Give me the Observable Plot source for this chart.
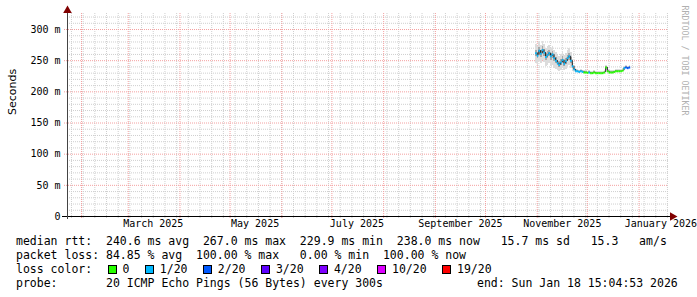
<!DOCTYPE html>
<html><head><meta charset="utf-8">
<script src="https://cdn.jsdelivr.net/npm/d3@7"></script>
<script src="https://cdn.jsdelivr.net/npm/@observablehq/plot@0.6"></script>
<style>
body{margin:0;background:#fff;}
#wrap{position:relative;width:697px;height:297px;overflow:hidden;background:#fff;}
#wrap svg{display:block;}
#legend{position:absolute;left:16px;top:234px;font-family:"DejaVu Sans Mono",monospace;font-size:11.5px;line-height:14px;white-space:pre;color:#000;}
#legend .box{display:inline-block;box-sizing:border-box;width:9px;height:9px;border:1px solid #000;margin:0 6px 0 1.5px;vertical-align:-1px;}
#legend .end{position:absolute;left:461px;top:42px;}
</style>
</head><body>
<div id="wrap"><div id="legend"></div></div>
<script>
// ---- data ----
const endTime = "2026-01-18T15:04:53Z";
const spanDays = 360;
const firstDay = "2025-10-31";           // first sample with replies (daily samples)
const medianMs = [262,258,266,261,267,263,256,259,262,257,260,254,250,246,243,247,251,245,249,254,257,250,241,
  236,233,233,232,233,232,
  231,231,230.5,231,230,230,231,230,230,230,230,230,231,
  239,
  233,231,231,231,232,233,233,233,233,234,
  238,239,238,239];
const lossCount = [1,1,1,1,1,1,1,1,1,1,1,1,1,1,1,1,1,1,1,1,1,1,1,
  1,1,1,1,1,1,
  0,0,0,1,0,0,0,0,0,0,0,0,0,
  0,
  0,0,0,0,0,0,0,0,0,0,
  1,2,2,2];
const smokeHiMs = [276,273,279,275,280,276,270,273,275,270,273,267,263,259,256,260,264,258,262,267,269,263,252,
  240,236,236,235,236,235,
  234,234,233,234,233,233,234,233,233,233,233,233,234,
  243,
  236,234,234,234,235,236,236,236,236,237,
  241,242,241,242];
const smokeLoMs = [246,243,249,246,250,247,241,243,246,241,243,238,236,234,233,235,238,234,236,240,242,237,233,
  232,231,231,230,231,230,
  229,229,229,229,228,228,229,228,228,228,228,228,229,
  235,
  231,229,229,229,230,231,231,231,231,232,
  236,237,236,237];
const coreHiMs = [267,263,271,266,272,268,261,264,267,262,265,259,255,251,248,252,256,250,254,259,262,255,245,
  237,234,234,233,234,233,
  232,232,231.5,232,231,231,232,231,231,231,231,231,232,
  240.5,
  234,232,232,232,233,234,234,234,234,235,
  239.5,240,239,240];
const coreLoMs = [256,253,260,255,261,257,251,254,256,251,254,249,245,242,239,242,246,241,244,249,251,245,238,
  235,232,232,231,232,231,
  230,230,229.5,230,229,229,230,229,229,229,229,229,230,
  237,
  232,230,230,230,231,232,232,232,232,233,
  237,238,237,238];
const yTickMs = [0,50,100,150,200,250,300];
const monthLabelDates = ["2025-03-01","2025-05-01","2025-07-01","2025-09-01","2025-11-01","2026-01-01"];
const lossLevels = [0,1,2,3,4,10,19];
const lossNames = ["0","1/20","2/20","3/20","4/20","10/20","19/20"];
const lossColors = ["#26ff00","#00b8ff","#0059ff","#5e00ff","#7e00ff","#dd00ff","#ff0000"];
const legendLines = [
  "median rtt:  240.6 ms avg  267.0 ms max  229.9 ms min  238.0 ms now   15.7 ms sd   15.3   am/s",
  "packet loss: 84.85 % avg  100.00 % max   0.00 % min  100.00 % now"
];
const probeText = "probe:       20 ICMP Echo Pings (56 Bytes) every 300s";
const endText = "end: Sun Jan 18 15:04:53 2026";
const yTitle = "Seconds";
const watermark = "RRDTOOL / TOBI OETIKER";
const yMaxSec = 0.3257;

// ---- build ----
const END = new Date(endTime);
const START = new Date(END.getTime() - spanDays * 864e5);
const d0 = new Date(firstDay + "T00:00:00Z");
const lossColor = c => { let k = 0; lossLevels.forEach((l, i) => { if (c >= l) k = i; }); return lossColors[k]; };
const rows = medianMs.map((m, i) => ({
  t0: d3.utcDay.offset(d0, i), t1: d3.utcDay.offset(d0, i + 1),
  med: m / 1000, loss: lossCount[i],
  lo: smokeLoMs[i] / 1000, hi: smokeHiMs[i] / 1000,
  clo: coreLoMs[i] / 1000, chi: coreHiMs[i] / 1000
}));
const conns = rows.slice(1).map((r, i) => ({t: r.t0, a: rows[i].med, b: r.med}));
const minorY = d3.range(10, 330, 10).filter(v => v % 50 !== 0).map(v => v / 1000);
const majorY = yTickMs.filter(v => v > 0).map(v => v / 1000);
const sundays = d3.utcSunday.range(START, END);
const months = d3.utcMonth.range(START, END);
const labelPos = monthLabelDates.map(s => d3.utcDay.offset(new Date(s + "T00:00:00Z"), 15));
const minorC = "#cfcfcf", majorC = "#f4a0a0";

const chart = Plot.plot({
  width: 697, height: 232,
  marginLeft: 67, marginRight: 29, marginTop: 13, marginBottom: 16,
  style: {fontFamily: "DejaVu Sans Mono", fontSize: "10px", background: "#fff", overflow: "visible"},
  x: {type: "utc", domain: [START, END], axis: null},
  y: {domain: [0, yMaxSec], axis: null},
  marks: [
    Plot.ruleY(minorY, {stroke: minorC, strokeDasharray: "1,1"}),
    Plot.ruleX(sundays, {stroke: minorC, strokeDasharray: "1,1", insetBottom: -2}),
    Plot.ruleY(majorY, {stroke: majorC, strokeDasharray: "1,1", insetLeft: -3}),
    Plot.ruleX(months, {stroke: majorC, strokeDasharray: "1,1", insetBottom: -3}),
    Plot.rect(rows, {x1: "t0", x2: "t1", y1: "lo", y2: "hi", fill: "#dcdcdc", shapeRendering: "crispEdges"}),
    Plot.rect(rows, {x1: "t0", x2: "t1", y1: "clo", y2: "chi", fill: "#a8a8a8", shapeRendering: "crispEdges"}),
    Plot.ruleX(conns, {x: "t", y1: "a", y2: "b", stroke: "#202020", strokeWidth: 1}),
    Plot.ruleY(rows, {y: "med", x1: "t0", x2: "t1", stroke: d => lossColor(d.loss), strokeWidth: 2}),
    Plot.ruleY([0], {stroke: "#000", insetLeft: -5, insetRight: -3}),
    Plot.ruleX([START], {stroke: "#444", insetTop: -3, insetBottom: -3}),
    Plot.dot([0], {frameAnchor: "top-left", symbol: "triangle", r: 3.2, fill: "#800000", stroke: "none", dy: -3}),
    Plot.dot([0], {frameAnchor: "bottom-right", symbol: "triangle", r: 3.2, fill: "#800000", stroke: "none", rotate: 90, dx: 4}),
    Plot.text(yTickMs, {y: d => d / 1000, frameAnchor: "left", dx: -7, textAnchor: "end", text: d => d === 0 ? "0" : d + " m", fontSize: 10, fill: "#000"}),
    Plot.text(labelPos, {x: d => d, frameAnchor: "bottom", dy: 10, text: d => d3.utcFormat("%B %Y")(d), fontSize: 10, fill: "#000", className: "xlab"}),
    Plot.text([yTitle], {frameAnchor: "left", dx: -55, rotate: -90, fontFamily: "DejaVu Sans", fontSize: 11, fill: "#000"}),
    Plot.text([watermark], {frameAnchor: "top-right", dx: 19, dy: -8, rotate: 90, textAnchor: "start", fontSize: 8.3, fill: "#b0b0b0"})
  ]
});
const wrap = document.getElementById("wrap");
wrap.prepend(chart);
// keep x labels inside the image, like rrdtool
const sr = chart.getBoundingClientRect();
chart.querySelectorAll(".xlab text").forEach(t => {
  const r = t.getBoundingClientRect();
  const over = r.right - sr.left - 697;
  if (over > 0) t.setAttribute("x", -over);
});

// legend
const lg = document.getElementById("legend");
legendLines.forEach(s => { const d = document.createElement("div"); d.textContent = s; lg.appendChild(d); });
const lc = document.createElement("div");
lc.appendChild(document.createTextNode("loss color:  "));
lossNames.forEach((n, i) => {
  const b = document.createElement("span"); b.className = "box"; b.style.background = lossColors[i];
  lc.appendChild(b); lc.appendChild(document.createTextNode(n + "  "));
});
lg.appendChild(lc);
const pr = document.createElement("div"); pr.textContent = probeText; lg.appendChild(pr);
const en = document.createElement("div"); en.className = "end"; en.textContent = endText; lg.appendChild(en);
</script>
</body></html>
